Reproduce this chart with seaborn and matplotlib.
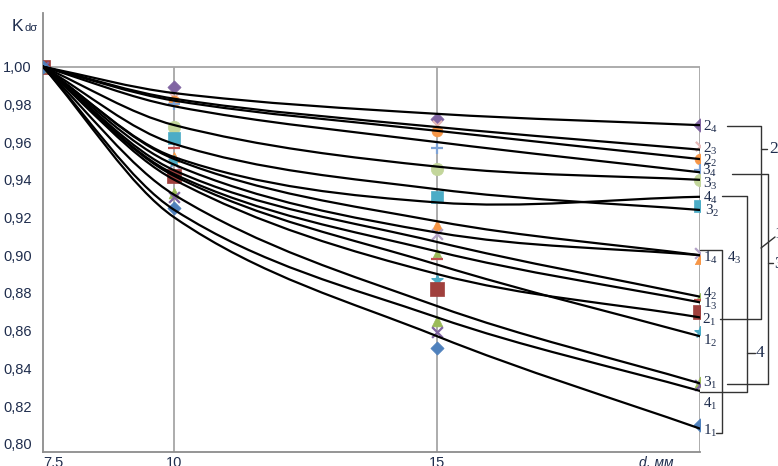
import numpy as np
import pandas as pd
import matplotlib
matplotlib.use("Agg")
import matplotlib.pyplot as plt
from matplotlib.path import Path
from matplotlib.patches import PathPatch
from matplotlib.lines import Line2D
import seaborn as sns

# Diameter of the specimen, mm
d = [7.5, 10, 15, 20]

# Approximating curves K_dσ(d) for each series (value at d = 7.5, 10, 15, 20)
k24 = [1.000, 0.986, 0.975, 0.969]
k23 = [1.000, 0.983, 0.968, 0.956]
k22 = [1.000, 0.982, 0.966, 0.951]
k34 = [1.000, 0.979, 0.960, 0.944]
k33 = [1.000, 0.969, 0.947, 0.940]
k32 = [1.000, 0.959, 0.935, 0.924]
k44 = [1.000, 0.952, 0.928, 0.931]
k14 = [1.000, 0.951, 0.918, 0.900]
k43 = [1.000, 0.948, 0.912, 0.900]
k42 = [1.000, 0.945, 0.907, 0.878]
k13 = [1.000, 0.943, 0.902, 0.875]
k12 = [1.000, 0.942, 0.895, 0.857]
k21 = [1.000, 0.940, 0.890, 0.867]
k31 = [1.000, 0.932, 0.873, 0.832]
k41 = [1.000, 0.924, 0.867, 0.828]
k11 = [1.000, 0.920, 0.857, 0.808]

# Experimental points (d = 7.5, 10, 15, 20)
m24 = [1.000, 0.989, 0.972, 0.969]
m23 = [1.000, 0.984, 0.969, 0.958]
m22 = [1.000, 0.982, 0.966, 0.951]
m34 = [1.000, 0.980, 0.957, 0.945]
m33 = [1.000, 0.968, 0.946, 0.940]
m32 = [1.000, 0.962, 0.931, 0.926]
m14 = [1.000, 0.952, 0.916, 0.898]
m43 = [1.000, 0.949, 0.911, 0.901]
m42 = [1.000, 0.941, 0.901, 0.878]
m13 = [1.000, 0.957, 0.898, 0.876]
m12 = [1.000, 0.950, 0.887, 0.859]
m21 = [1.000, 0.942, 0.882, 0.870]
m31 = [1.000, 0.933, 0.865, 0.833]
m41 = [1.000, 0.931, 0.859, 0.831]
m11 = [1.000, 0.925, 0.851, 0.810]

y_ticks = [0.80, 0.82, 0.84, 0.86, 0.88, 0.90, 0.92, 0.94, 0.96, 0.98, 1.00]
x_ticks = [7.5, 10, 15]
x_tick_labels = ["7.5", "10", "15"]

curves = [k24, k23, k22, k34, k33, k32, k44, k14, k43, k42, k13, k12, k21, k31, k41, k11]

points = [
    (m24, "D", "#8064A2", 45),
    (m23, "x", "#E6B9B8", 45),
    (m22, "o", "#F79646", 60),
    (m34, "+", "#7EA3D6", 70),
    (m33, "o", "#C3D69B", 80),
    (m32, "s", "#4BACC6", 80),
    (m14, "^", "#F79646", 55),
    (m43, "x", "#B3A2C7", 60),
    (m42, "^", "#9BBB59", 35),
    (m13, "_", "#C0504D", 70),
    (m12, "*", "#4BACC6", 70),
    (m21, "s", "#A0403D", 90),
    (m31, "^", "#9BBB59", 60),
    (m41, "x", "#8064A2", 60),
    (m11, "D", "#4F81BD", 45),
]

sns.set_theme(style="white")
plt.rcParams["font.family"] = ["Liberation Sans", "DejaVu Sans"]

W, H = 778, 466
fig = plt.figure(figsize=(W / 100, H / 100), dpi=100)
ax = fig.add_axes([43 / W, 14 / H, 657 / W, 439 / H])
y_lo, y_hi = 0.7956, 1.0285
ax.set_xlim(7.5, 20)
ax.set_ylim(y_lo, y_hi)

grid_c = "#a6a6a6"
ax.vlines([10, 15, 20], y_lo, 1.0, color=grid_c, lw=1.3, zorder=1)
ax.hlines(1.0, 7.5, 20, color=grid_c, lw=1.3, zorder=1)

# experimental points
for vals, mk, col, size in points:
    if mk in ("x", "+", "_"):
        sns.scatterplot(x=d, y=vals, marker=mk, color=col, s=size,
                        linewidth=1.6, ax=ax, zorder=3, clip_on=True)
    else:
        sns.scatterplot(x=d, y=vals, marker=mk, color=col, s=size,
                        edgecolor=None if mk == "*" else col,
                        linewidth=1.0 if mk == "*" else 0.5, ax=ax,
                        zorder=3, clip_on=True)


def smooth_path(xs, ys):
    """Cubic Hermite curve through the knots, written as Bezier segments."""
    xs = np.asarray(xs, float)
    ys = np.asarray(ys, float)
    n = len(xs)
    m = np.empty(n)
    m[0] = (ys[1] - ys[0]) / (xs[1] - xs[0])
    m[-1] = (ys[-1] - ys[-2]) / (xs[-1] - xs[-2])
    for i in range(1, n - 1):
        m[i] = (ys[i + 1] - ys[i - 1]) / (xs[i + 1] - xs[i - 1])
    verts = [(xs[0], ys[0])]
    codes = [Path.MOVETO]
    for i in range(n - 1):
        h = xs[i + 1] - xs[i]
        verts += [(xs[i] + h / 3, ys[i] + m[i] * h / 3),
                  (xs[i + 1] - h / 3, ys[i + 1] - m[i + 1] * h / 3),
                  (xs[i + 1], ys[i + 1])]
        codes += [Path.CURVE4] * 3
    return Path(verts, codes)


for k in curves:
    ax.add_patch(PathPatch(smooth_path(d, k), fill=False, edgecolor="black",
                           lw=1.6, zorder=4, capstyle="round", joinstyle="round"))

for s in ("top", "right"):
    ax.spines[s].set_visible(False)
for s in ("left", "bottom"):
    ax.spines[s].set_color("#8c8c8c")
    ax.spines[s].set_linewidth(1.3)

txt_c = "#1f2d4d"
ax.set_yticks(y_ticks)
ax.set_yticklabels([f"{v:.2f}".replace(".", ",") for v in y_ticks])
ax.set_xticks(x_ticks)
ax.set_xticklabels(x_tick_labels)
ax.tick_params(axis="y", length=0, pad=8, labelsize=10.5, labelcolor=txt_c)
ax.tick_params(axis="x", length=0, pad=3, labelsize=10.5, labelcolor=txt_c)
ax.get_xticklabels()[0].set_ha("left")
ax.set_xlabel("")
ax.set_ylabel("")


def fx(px):
    return px / W


def fy(py):
    return 1 - py / H


fig.text(fx(656), fy(463), "d, мм", style="italic", fontsize=10,
         color=txt_c, ha="center", va="center")
fig.text(fx(12), fy(31), "K", fontsize=12.5, color=txt_c, ha="left", va="baseline")
fig.text(fx(24.5), fy(31), "dσ", fontsize=8, color=txt_c, ha="left", va="baseline")

serif = ["Liberation Serif", "DejaVu Serif"]
labels = [
    ("2", "4", 703, 127), ("2", "3", 703, 149), ("2", "2", 703, 161),
    ("3", "4", 702, 171), ("3", "3", 703, 184), ("4", "4", 703, 198),
    ("3", "2", 705, 211), ("1", "4", 703, 258), ("4", "3", 727, 258),
    ("4", "2", 703, 294), ("1", "3", 703, 304), ("2", "1", 702, 320),
    ("1", "2", 703, 341), ("3", "1", 703, 383), ("4", "1", 703, 404),
    ("1", "1", 703, 431),
]
for a, b, px, py in labels:
    fig.text(fx(px), fy(py), rf"$\mathregular{{{a}_{b}}}$", fontsize=11,
             family=serif, color=txt_c, ha="left", va="center")

# group brackets
br_c = "#333333"
segments = [
    [(727, 126), (761, 126), (761, 319), (720, 319)],
    [(761, 149), (767, 149)],
    [(732, 174), (768, 174), (768, 384), (727, 384)],
    [(768, 263), (773, 263)],
    [(722, 196), (747, 196), (747, 392), (700, 392)],
    [(747, 353), (755, 353)],
    [(700, 250), (722, 250), (722, 433), (716, 433)],
    [(761, 248), (775, 237)],
]
for seg in segments:
    xs = [fx(p[0]) for p in seg]
    ys = [fy(p[1]) for p in seg]
    fig.add_artist(Line2D(xs, ys, transform=fig.transFigure, color=br_c, lw=1.0))

for txt, px, py in [("2", 769, 149), ("3", 774, 264), ("4", 756, 353), ("1", 774, 234)]:
    fig.text(fx(px), fy(py), txt, fontsize=12.5, family=serif, color=txt_c,
             ha="left", va="center")

fig.savefig("out.png", dpi=100)
